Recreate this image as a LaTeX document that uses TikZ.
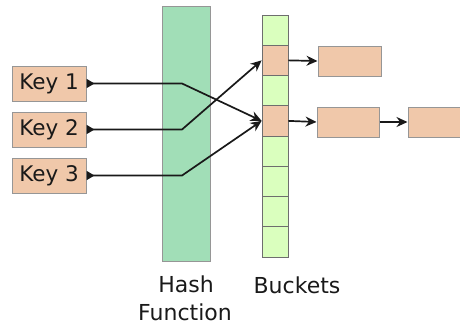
\documentclass[tikz,border=0pt]{standalone}
\usepackage{fontspec}
\setmainfont{DejaVu Sans}
\usetikzlibrary{arrows.meta}
\definecolor{keyfill}{RGB}{240,200,170}
\definecolor{hashfill}{RGB}{161,222,183}
\definecolor{bucketfill}{RGB}{218,255,190}
\definecolor{edgegray}{RGB}{150,150,150}
\definecolor{celledge}{RGB}{110,110,110}
\definecolor{ink}{RGB}{25,25,25}

\begin{document}
\begin{tikzpicture}[x=1pt,y=-1pt,
  box/.style={draw=edgegray, line width=1pt, fill=keyfill, inner sep=0pt,
              minimum width=62pt, minimum height=30pt},
  keybox/.style={box, minimum width=74pt, minimum height=35pt, text=ink,
              font=\fontsize{21.5}{24}\selectfont},
  cell/.style={draw=celledge, line width=0.8pt, fill=bucketfill, inner sep=0pt,
              minimum width=26pt, minimum height=30.25pt},
  used/.style={fill=keyfill},
  caption/.style={font=\fontsize{22}{26}\selectfont, anchor=base, text=ink},
  hashline/.style={line width=1.7pt, draw=ink,
              {Triangle[reversed,length=8pt,width=9pt]}-{Stealth[length=11pt,width=10pt]}},
  link/.style={line width=1.7pt, draw=ink, -{Stealth[length=11pt,width=10pt]}}]

\clip (0,0) rectangle (460,324);

% hash function column
\node[draw=edgegray, line width=1pt, fill=hashfill, minimum width=48pt,
      minimum height=255pt, inner sep=0pt] (hash) at (186,133.5) {};

% keys
\node[keybox] (k1) at (49,83.5) {Key 1};
\node[keybox] (k2) at (49,129.5) {Key 2};
\node[keybox] (k3) at (49,175.5) {Key 3};

% bucket array
\foreach \i in {1,...,8} {
  \node[cell] (b\i) at (275,{15+30.25*(\i-0.5)}) {};
}
\node[cell,used] (b2) at (275,{15+30.25*1.5}) {};
\node[cell,used] (b4) at (275,{15+30.25*3.5}) {};

% chained entries
\node[box, minimum width=63pt] (c1) at (349.5,61) {};
\node[box] (c2) at (348,122) {};
\node[box] (c3) at (439,122) {};

% bend points inside the hash function
\coordinate (h1) at (182,83.5);
\coordinate (h2) at (182,129.5);
\coordinate (h3) at (182,175.5);

\draw[hashline] (k1.east) -- (h1) -- (b4.west);
\draw[hashline] (k2.east) -- (h2) -- (b2.west);
\draw[hashline] (k3.east) -- (h3) -- (b4.west);

\draw[link] (b2.east) -- (c1.west);
\draw[link] (b4.east) -- (c2.west);
\draw[link] (c2.east) -- (c3.west);

% captions
\node[caption] (lh1) at (186,292) {Hash};
\node[caption] (lh2) at (185,320) {Function};
\node[caption] (lb) at (297,293) {Buckets};
\end{tikzpicture}
\end{document}
